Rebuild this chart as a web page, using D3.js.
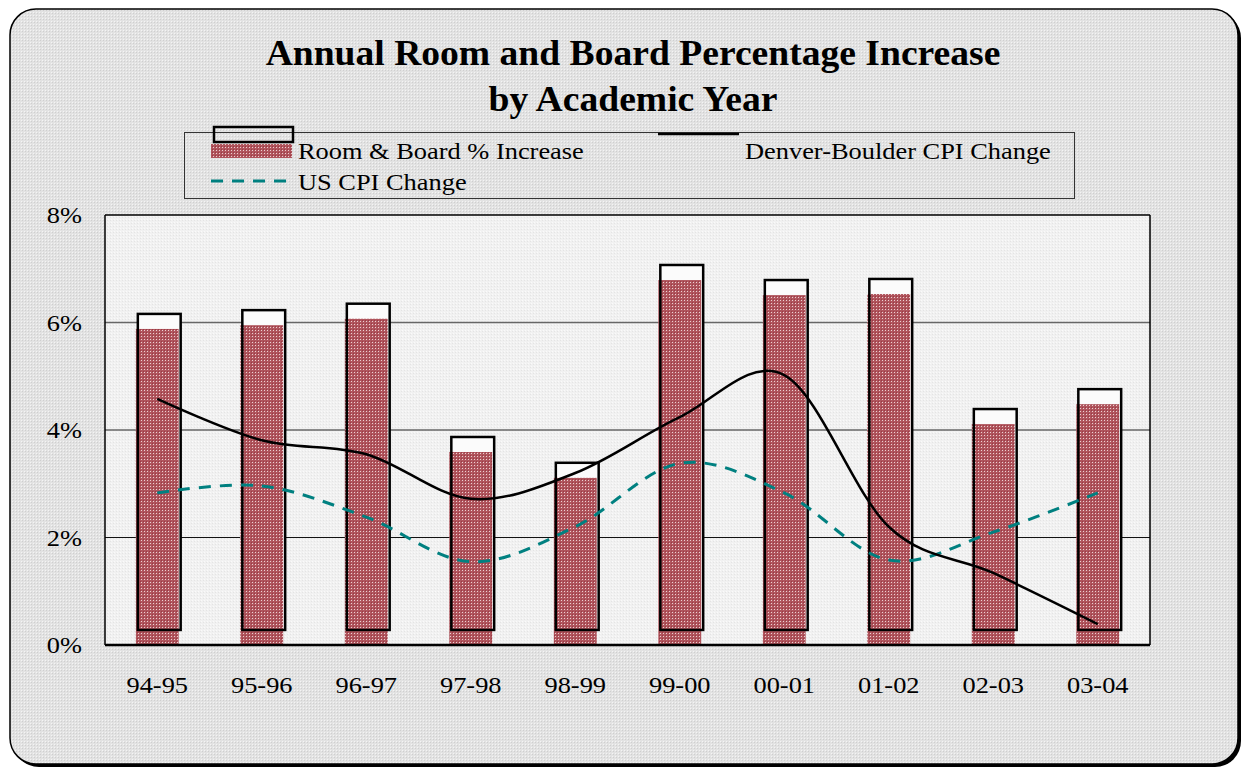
<!DOCTYPE html>
<html>
<head>
<meta charset="utf-8">
<script src="https://cdn.jsdelivr.net/npm/d3@7"></script>
<style>
  html, body { margin: 0; padding: 0; background: #ffffff; }
  svg { display: block; }
  svg text { font-family: "Liberation Serif", "Times New Roman", Times, serif; }
</style>
</head>
<body>
<svg id="chart" width="1243" height="768"></svg>
<script>
// ---- data ----
const categories = ["94-95","95-96","96-97","97-98","98-99","99-00","00-01","01-02","02-03","03-04"];
const roomBoard  = [5.88, 5.95, 6.07, 3.59, 3.11, 6.79, 6.51, 6.53, 4.11, 4.48];
const denverCPI  = [4.58, 3.81, 3.55, 2.72, 3.20, 4.24, 5.02, 2.20, 1.34, 0.39];
const usCPI      = [2.83, 2.96, 2.38, 1.55, 2.20, 3.38, 2.83, 1.58, 2.10, 2.83];
const yTicks     = [0, 2, 4, 6, 8];
const titleLines = ["Annual Room and Board Percentage Increase", "by Academic Year"];
const legendLabels = ["Room & Board % Increase", "Denver-Boulder CPI Change", "US CPI Change"];

// ---- layout ----
const svg = d3.select("#chart");
const plot = {left: 105, right: 1150, top: 215, bottom: 645};
const depth = 0.28; // 3-D offset of the bar outline, in % units
const dx3d = 2;
const stretch = 1.1; // horizontal stretch of text in the reference

const defs = svg.append("defs");
const pBg = defs.append("pattern").attr("id","bgpat").attr("width",3).attr("height",3).attr("patternUnits","userSpaceOnUse");
pBg.append("rect").attr("width",3).attr("height",3).attr("fill","#e2e2e2");
pBg.append("rect").attr("x",0).attr("y",0).attr("width",1).attr("height",1).attr("fill","#f4f4f4");
pBg.append("rect").attr("x",1).attr("y",1).attr("width",1).attr("height",1).attr("fill","#cfcfcf");
const pPl = defs.append("pattern").attr("id","plpat").attr("width",3).attr("height",3).attr("patternUnits","userSpaceOnUse");
pPl.append("rect").attr("width",3).attr("height",3).attr("fill","#f1f1f1");
pPl.append("rect").attr("x",0).attr("y",0).attr("width",1).attr("height",1).attr("fill","#fafafa");
pPl.append("rect").attr("x",2).attr("y",1).attr("width",1).attr("height",1).attr("fill","#e4e4e4");
const pBar = defs.append("pattern").attr("id","barpat").attr("width",3).attr("height",3).attr("patternUnits","userSpaceOnUse");
pBar.append("rect").attr("width",3).attr("height",3).attr("fill","#b0555d");
pBar.append("rect").attr("x",0).attr("y",0).attr("width",1).attr("height",1).attr("fill","#ecd0d2");
pBar.append("rect").attr("x",2).attr("y",2).attr("width",1).attr("height",1).attr("fill","#9a3a44");

// frame with shadow
svg.append("rect").attr("x",13).attr("y",12).attr("width",1228).attr("height",755).attr("rx",26).attr("fill","#000");
svg.append("rect").attr("x",10).attr("y",9).attr("width",1228).attr("height",755).attr("rx",26)
  .attr("fill","url(#bgpat)").attr("stroke","#000").attr("stroke-width",1.5);

// title
svg.append("g").selectAll("text").data(titleLines).join("text")
  .attr("transform", (d,i) => `translate(633,${65 + i*46}) scale(1.03,1)`)
  .attr("text-anchor","middle").attr("font-weight","bold").attr("font-size",36.5)
  .attr("fill","#000").text(d => d);

// scales
const x = d3.scaleBand().domain(categories).range([plot.left, plot.right]).paddingInner(0.59).paddingOuter(0.295);
const xc = c => x(c) + x.bandwidth()/2;
const y = d3.scaleLinear().domain([0, 8]).range([plot.bottom, plot.top]);

// plot area
svg.append("rect").attr("x",plot.left).attr("y",plot.top)
  .attr("width",plot.right-plot.left).attr("height",plot.bottom-plot.top)
  .attr("fill","url(#plpat)");

// grid lines
svg.append("g").selectAll("line").data(yTicks.filter(t => t>0 && t<8)).join("line")
  .attr("x1",plot.left).attr("x2",plot.right)
  .attr("y1",d=>y(d)).attr("y2",d=>y(d))
  .attr("stroke", d => d===2 ? "#111" : "#666").attr("stroke-width", d => d===2 ? 1 : 1.5);

// y axis labels
const yAxis = d3.axisLeft(y).tickValues(yTicks).tickFormat(d => d + "%").tickSize(0).tickPadding(21);
const gy = svg.append("g").attr("transform",`translate(${plot.left},0)`).call(yAxis);
gy.attr("font-family", null);
gy.select(".domain").remove();
gy.selectAll("text").attr("font-size",24).attr("fill","#000").attr("transform",`scale(${stretch},1)`);

// x axis labels
const xLab = d3.scaleBand().domain(categories).range([plot.left, plot.right]);
const xAxis = d3.axisBottom(xLab).tickSize(0).tickPadding(31);
const gx = svg.append("g").attr("transform",`translate(0,${plot.bottom})`).call(xAxis);
gx.attr("font-family", null);
gx.select(".domain").remove();
gx.selectAll("text").attr("font-size",24).attr("fill","#000").attr("transform",`scale(${stretch},1)`);

// bars
const bars = svg.append("g");
const data = categories.map((c,i) => ({c, v: roomBoard[i]}));
bars.selectAll("rect.back").data(data).join("rect").attr("class","back")
  .attr("x", d => x(d.c) + dx3d).attr("width", x.bandwidth())
  .attr("y", d => y(d.v + depth)).attr("height", d => y(depth) - y(d.v + depth))
  .attr("fill","#fbfbfb");
bars.selectAll("rect.front").data(data).join("rect").attr("class","front")
  .attr("x", d => x(d.c)).attr("width", x.bandwidth())
  .attr("y", d => y(d.v)).attr("height", d => y(0) - y(d.v))
  .attr("fill","url(#barpat)");
bars.selectAll("rect.outline").data(data).join("rect").attr("class","outline")
  .attr("x", d => x(d.c) + dx3d).attr("width", x.bandwidth())
  .attr("y", d => y(d.v + depth)).attr("height", d => y(depth) - y(d.v + depth))
  .attr("fill","none").attr("stroke","#000").attr("stroke-width",2.5);

// plot borders
svg.append("line").attr("x1",plot.left).attr("x2",plot.left).attr("y1",plot.top).attr("y2",plot.bottom).attr("stroke","#000").attr("stroke-width",1.5);
svg.append("line").attr("x1",plot.left).attr("x2",plot.right).attr("y1",plot.top).attr("y2",plot.top).attr("stroke","#000").attr("stroke-width",1.5);
svg.append("line").attr("x1",plot.right).attr("x2",plot.right).attr("y1",plot.top).attr("y2",plot.bottom).attr("stroke","#000").attr("stroke-width",1.5);
svg.append("line").attr("x1",plot.left).attr("x2",plot.right).attr("y1",plot.bottom).attr("y2",plot.bottom).attr("stroke","#000").attr("stroke-width",2.5);

// lines
const line = d3.line().x(d => xc(d.c)).y(d => y(d.v)).curve(d3.curveCatmullRom.alpha(0));
svg.append("path").datum(categories.map((c,i)=>({c, v: usCPI[i]})))
  .attr("d", line).attr("fill","none").attr("stroke","#008080").attr("stroke-width",3)
  .attr("stroke-dasharray","12,9");
svg.append("path").datum(categories.map((c,i)=>({c, v: denverCPI[i]})))
  .attr("d", line).attr("fill","none").attr("stroke","#000").attr("stroke-width",2.5);

// legend
const lg = svg.append("g");
lg.append("rect").attr("x",184.5).attr("y",132.5).attr("width",890).attr("height",66)
  .attr("fill","none").attr("stroke","#333").attr("stroke-width",1);
lg.append("rect").attr("x",211).attr("y",144).attr("width",81).attr("height",14).attr("fill","url(#barpat)");
lg.append("rect").attr("x",214).attr("y",127).attr("width",79).attr("height",15)
  .attr("fill","none").attr("stroke","#000").attr("stroke-width",2.5);
lg.append("line").attr("x1",658).attr("x2",739).attr("y1",134).attr("y2",134).attr("stroke","#000").attr("stroke-width",2.5);
lg.append("line").attr("x1",211).attr("x2",292).attr("y1",181).attr("y2",181)
  .attr("stroke","#008080").attr("stroke-width",3).attr("stroke-dasharray","12,9");
const legPos = [[298,159],[745,159],[298,190]];
lg.selectAll("text").data(legendLabels).join("text")
  .attr("transform",(d,i)=>`translate(${legPos[i][0]},${legPos[i][1]}) scale(${stretch},1)`)
  .attr("font-size",24).attr("fill","#000").text(d=>d);
</script>
</body>
</html>
